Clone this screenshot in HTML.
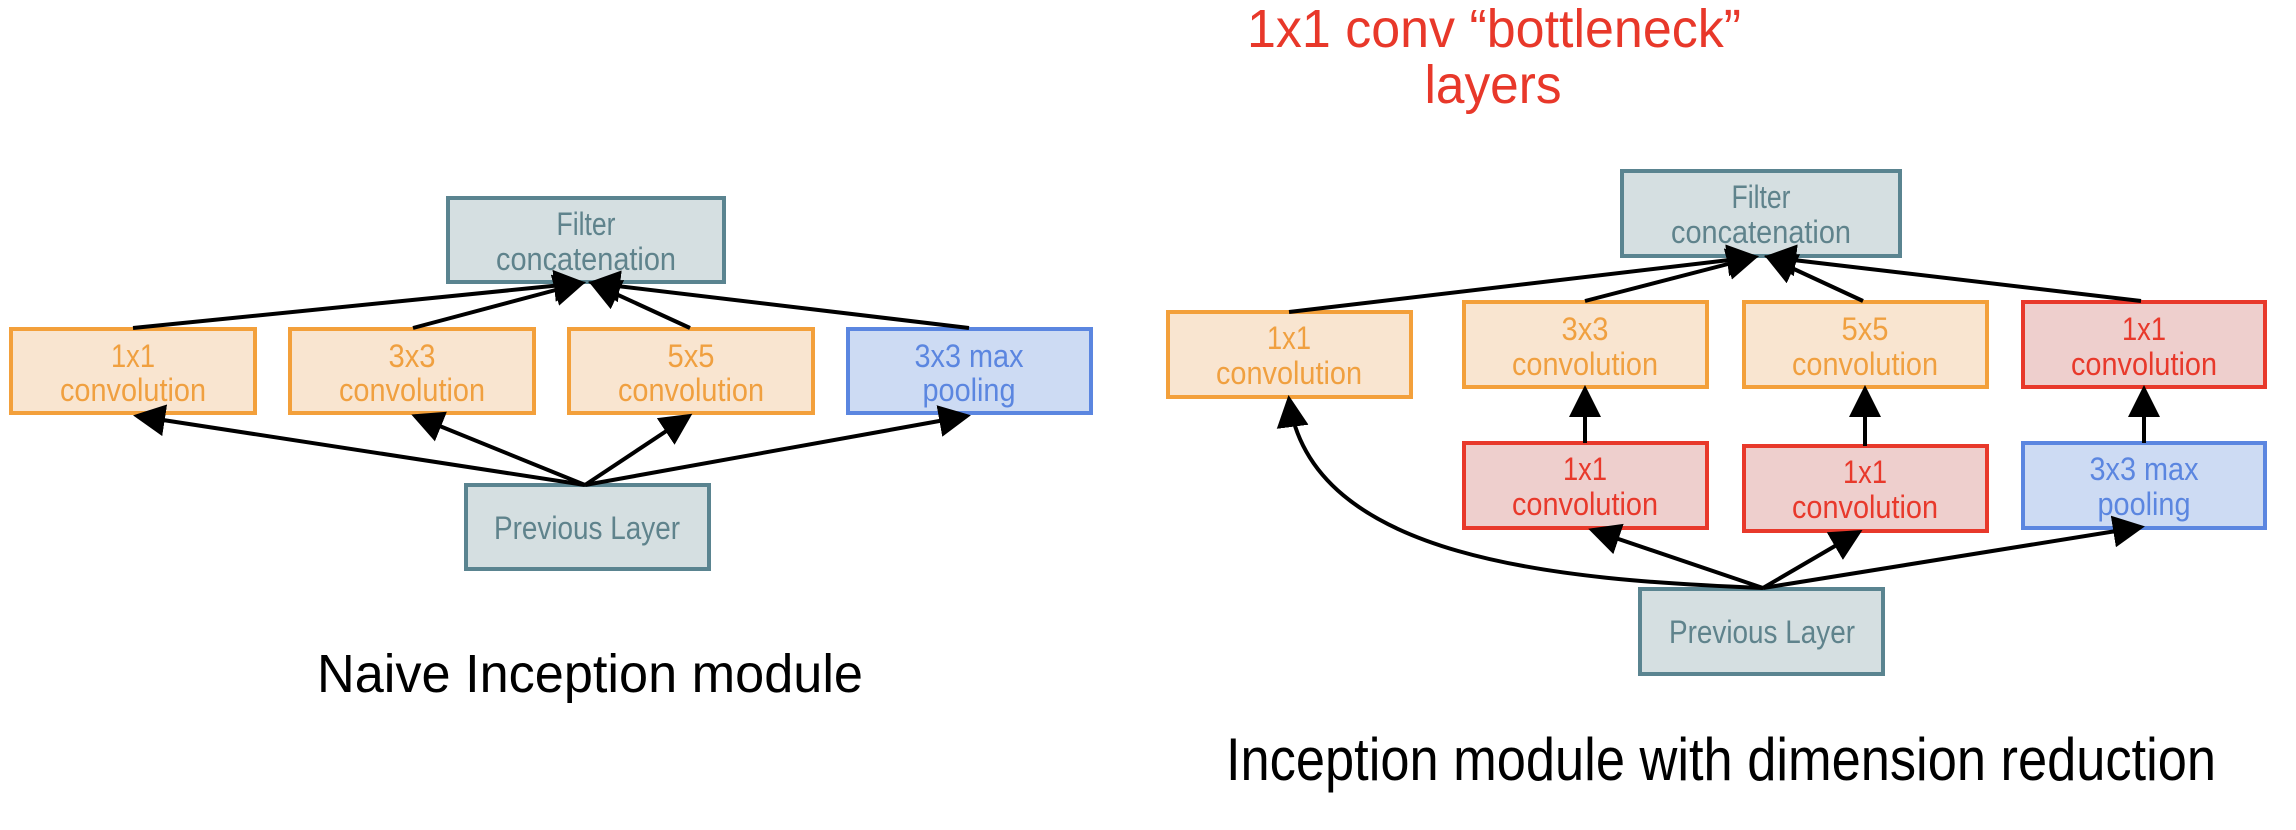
<!DOCTYPE html>
<html><head><meta charset="utf-8"><style>
html,body{margin:0;padding:0;background:#fff;}
svg{display:block;}
text{font-family:"Liberation Sans",Arial,sans-serif;}
</style></head><body>
<svg width="2296" height="830" viewBox="0 0 2296 830" xmlns="http://www.w3.org/2000/svg">
<defs>
<marker id="ah" markerWidth="8" markerHeight="8" refX="7" refY="4" orient="auto" markerUnits="strokeWidth">
<path d="M0,0 L8,4 L0,8 z" fill="#000"/>
</marker>
<style>
.g{fill:#d5dfe1;stroke:#5a8490;stroke-width:4}
.o{fill:#f9e5d0;stroke:#f3a03b;stroke-width:4}
.r{fill:#eecfcd;stroke:#e8392b;stroke-width:4}
.b{fill:#cddbf3;stroke:#5b86e0;stroke-width:4}
.tg{fill:#5f838c;font-size:32px}
.to{fill:#f0a040;font-size:32px}
.tr{fill:#e8392b;font-size:32px}
.tb{fill:#5b86e0;font-size:32px}
.l{stroke:#000;stroke-width:4;fill:none;marker-end:url(#ah)}
</style>
</defs>

<!-- LEFT: Naive -->
<rect class="g" x="448" y="198" width="276" height="84"/>
<text class="tg" x="586" y="235" text-anchor="middle" textLength="59" lengthAdjust="spacingAndGlyphs">Filter</text>
<text class="tg" x="586" y="270" text-anchor="middle" textLength="180" lengthAdjust="spacingAndGlyphs">concatenation</text>

<rect class="o" x="11" y="329" width="244" height="84"/>
<text class="to" x="133" y="367" text-anchor="middle" textLength="44" lengthAdjust="spacingAndGlyphs">1x1</text>
<text class="to" x="133" y="401" text-anchor="middle" textLength="146" lengthAdjust="spacingAndGlyphs">convolution</text>
<rect class="o" x="290" y="329" width="244" height="84"/>
<text class="to" x="412" y="367" text-anchor="middle" textLength="47" lengthAdjust="spacingAndGlyphs">3x3</text>
<text class="to" x="412" y="401" text-anchor="middle" textLength="146" lengthAdjust="spacingAndGlyphs">convolution</text>
<rect class="o" x="569" y="329" width="244" height="84"/>
<text class="to" x="691" y="367" text-anchor="middle" textLength="47" lengthAdjust="spacingAndGlyphs">5x5</text>
<text class="to" x="691" y="401" text-anchor="middle" textLength="146" lengthAdjust="spacingAndGlyphs">convolution</text>
<rect class="b" x="848" y="329" width="243" height="84"/>
<text class="tb" x="969" y="367" text-anchor="middle" textLength="109" lengthAdjust="spacingAndGlyphs">3x3 max</text>
<text class="tb" x="969" y="401" text-anchor="middle" textLength="93" lengthAdjust="spacingAndGlyphs">pooling</text>

<rect class="g" x="466" y="485" width="243" height="84"/>
<text class="tg" x="587" y="539" text-anchor="middle" textLength="186" lengthAdjust="spacingAndGlyphs">Previous Layer</text>

<line class="l" x1="133" y1="328" x2="582" y2="283"/>
<line class="l" x1="413" y1="328" x2="582" y2="283"/>
<line class="l" x1="690" y1="328" x2="592" y2="283"/>
<line class="l" x1="969" y1="328" x2="592" y2="283"/>
<line class="l" x1="585" y1="485" x2="137" y2="416"/>
<line class="l" x1="585" y1="485" x2="415" y2="416"/>
<line class="l" x1="585" y1="485" x2="689" y2="416"/>
<line class="l" x1="585" y1="485" x2="967" y2="416"/>

<text x="590" y="692" text-anchor="middle" font-size="54" fill="#000" textLength="546" lengthAdjust="spacingAndGlyphs">Naive Inception module</text>

<!-- RIGHT -->
<text x="1494" y="47" text-anchor="middle" font-size="54" fill="#e8382a" textLength="494" lengthAdjust="spacingAndGlyphs">1x1 conv “bottleneck”</text>
<text x="1493" y="103" text-anchor="middle" font-size="54" fill="#e8382a" textLength="137" lengthAdjust="spacingAndGlyphs">layers</text>

<rect class="g" x="1622" y="171" width="278" height="85"/>
<text class="tg" x="1761" y="208" text-anchor="middle" textLength="59" lengthAdjust="spacingAndGlyphs">Filter</text>
<text class="tg" x="1761" y="243" text-anchor="middle" textLength="180" lengthAdjust="spacingAndGlyphs">concatenation</text>

<rect class="o" x="1168" y="312" width="243" height="85"/>
<text class="to" x="1289" y="349" text-anchor="middle" textLength="44" lengthAdjust="spacingAndGlyphs">1x1</text>
<text class="to" x="1289" y="384" text-anchor="middle" textLength="146" lengthAdjust="spacingAndGlyphs">convolution</text>
<rect class="o" x="1464" y="302" width="243" height="85"/>
<text class="to" x="1585" y="340" text-anchor="middle" textLength="47" lengthAdjust="spacingAndGlyphs">3x3</text>
<text class="to" x="1585" y="375" text-anchor="middle" textLength="146" lengthAdjust="spacingAndGlyphs">convolution</text>
<rect class="o" x="1744" y="302" width="243" height="85"/>
<text class="to" x="1865" y="340" text-anchor="middle" textLength="47" lengthAdjust="spacingAndGlyphs">5x5</text>
<text class="to" x="1865" y="375" text-anchor="middle" textLength="146" lengthAdjust="spacingAndGlyphs">convolution</text>
<rect class="r" x="2023" y="302" width="242" height="85"/>
<text class="tr" x="2144" y="340" text-anchor="middle" textLength="44" lengthAdjust="spacingAndGlyphs">1x1</text>
<text class="tr" x="2144" y="375" text-anchor="middle" textLength="146" lengthAdjust="spacingAndGlyphs">convolution</text>

<rect class="r" x="1464" y="443" width="243" height="85"/>
<text class="tr" x="1585" y="480" text-anchor="middle" textLength="44" lengthAdjust="spacingAndGlyphs">1x1</text>
<text class="tr" x="1585" y="515" text-anchor="middle" textLength="146" lengthAdjust="spacingAndGlyphs">convolution</text>
<rect class="r" x="1744" y="446" width="243" height="85"/>
<text class="tr" x="1865" y="483" text-anchor="middle" textLength="44" lengthAdjust="spacingAndGlyphs">1x1</text>
<text class="tr" x="1865" y="518" text-anchor="middle" textLength="146" lengthAdjust="spacingAndGlyphs">convolution</text>
<rect class="b" x="2023" y="443" width="242" height="85"/>
<text class="tb" x="2144" y="480" text-anchor="middle" textLength="109" lengthAdjust="spacingAndGlyphs">3x3 max</text>
<text class="tb" x="2144" y="515" text-anchor="middle" textLength="93" lengthAdjust="spacingAndGlyphs">pooling</text>

<rect class="g" x="1640" y="589" width="243" height="85"/>
<text class="tg" x="1762" y="643" text-anchor="middle" textLength="186" lengthAdjust="spacingAndGlyphs">Previous Layer</text>

<line class="l" x1="1289" y1="312" x2="1755" y2="257"/>
<line class="l" x1="1585" y1="301" x2="1755" y2="257"/>
<line class="l" x1="1863" y1="301" x2="1768" y2="257"/>
<line class="l" x1="2141" y1="301" x2="1768" y2="257"/>

<line class="l" x1="1585" y1="443" x2="1585" y2="389"/>
<line class="l" x1="1865" y1="446" x2="1865" y2="389"/>
<line class="l" x1="2144" y1="443" x2="2144" y2="389"/>

<path class="l" d="M1763,588 C1560,580 1310,560 1289,399"/>
<line class="l" x1="1763" y1="588" x2="1592" y2="530"/>
<line class="l" x1="1763" y1="588" x2="1859" y2="532"/>
<line class="l" x1="1763" y1="588" x2="2141" y2="527"/>

<text x="1721" y="780" text-anchor="middle" font-size="60" fill="#000" textLength="990" lengthAdjust="spacingAndGlyphs">Inception module with dimension reduction</text>
</svg>
</body></html>
